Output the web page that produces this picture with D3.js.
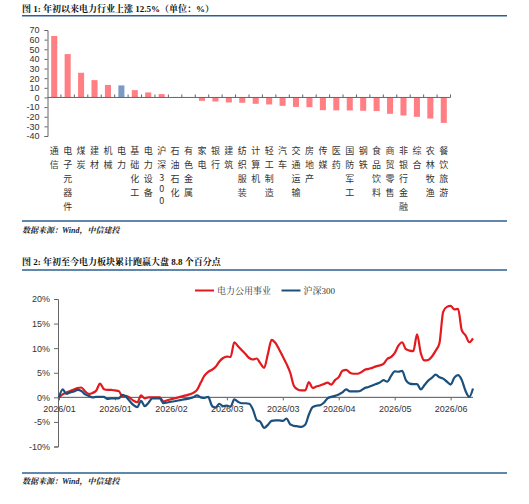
<!DOCTYPE html>
<html><head><meta charset="utf-8">
<script src="https://cdn.jsdelivr.net/npm/d3@7"></script>
<style>body{margin:0;background:#fff}svg{display:block}</style>
</head><body><svg id="c" width="529" height="504"></svg>
<script>
// ---------- Figure 1 data ----------
const categories = ["通信","电子元器件","煤炭","建材","机械","电力","基础化工","电力设备","沪深300","石油石化","有色金属","家电","银行","建筑","纺织服装","计算机","轻工制造","汽车","交通运输","房地产","传媒","医药","国防军工","钢铁","食品饮料","商贸零售","非银行金融","综合","农林牧渔","餐饮旅游"];
const changes = [63.8,45.0,25.6,18.0,13.0,12.5,7.6,5.2,3.5,0.5,0.3,-3.5,-4.2,-5.2,-5.5,-6.6,-7.3,-8.7,-9.8,-10.1,-13.2,-13.4,-13.5,-13.8,-14.1,-17.0,-18.7,-20.1,-21.9,-26.4];
const highlightCategory = "电力";
const barTicks = [70,60,50,40,30,20,10,0,-10,-20,-30,-40];

// ---------- Figure 2 data ----------
const powerUtility = [0,0.6,1.0,1.3,1.6,1.9,2.0,1.2,0.7,0.9,1.4,2.8,1.7,1.5,1.5,1.4,1.3,0.2,0.3,-0.1,-0.7,-1.0,0.4,-0.2,0,0,0,0,-0.8,-0.6,-0.4,-0.2,0,0.2,0.4,0.6,0.9,1.5,3.0,4.4,5.2,5.6,6.2,7.3,8.0,8.3,8.2,11.2,10.4,9.6,8.8,8.0,7.7,7.9,6.9,6.0,8.8,11.7,11.1,9.8,8.3,6.8,5.0,2.3,1.6,1.4,1.4,3.1,1.9,2.2,2.4,2.7,3.0,2.6,3.5,4.1,5.4,5.6,5.0,4.8,4.8,5.1,5.6,5.8,6.0,6.3,6.5,6.8,7.8,8.2,9.0,10.5,11.2,9.8,9.5,9.4,12.8,9.0,7.5,7.6,8.3,9.5,11.0,17.4,18.4,18.6,17.9,18.0,13.6,12.6,11.2,12.0];
const csi300 = [0,1.6,0.7,1.0,1.2,1.5,1.3,0.6,0.3,0,0.1,0.1,0.1,-0.3,-0.2,-0.2,-0.2,0.5,0.1,-0.8,-1.6,-2.0,-0.7,-1.8,-1.1,-0.2,-0.2,-0.2,-1.2,-1.05,-0.9,-0.8,-0.65,-0.5,-0.35,-0.2,0,0.4,0,-0.1,0.1,-1.7,-2.1,-1.3,-1.8,-1.7,-1.9,-0.4,-0.9,-1.2,-1.2,-1.3,-2.5,-4.6,-5.0,-6.2,-5.6,-4.8,-4.7,-4.7,-4.8,-4.3,-5.5,-5.8,-5.9,-6.0,-5.6,-3.5,-2.0,-1.7,-1.6,-1.1,-0.2,0.1,0.3,0.6,1.0,1.6,1.2,1.2,1.2,1.4,1.9,2.1,2.4,2.7,3.0,3.5,3.2,4.3,5.3,5.2,5.4,3.5,2.8,2.7,2.7,1.6,2.5,3.4,4.0,4.6,4.1,3.8,3.2,2.6,4.0,4.5,3.5,1.3,0.1,1.8];
const seriesNames = ["电力公用事业","沪深300"];
const xTickLabels = ["2026/01","2026/01","2026/02","2026/03","2026/03","2026/04","2026/05","2026/06"];
const xTickIndex = [0,15,30,45,60,75,90,105];
const lineYTicks = [20,15,10,5,0,-5,-10];

const svg = d3.select("#c");
const BLUE_RULE = "#2d5f8f";
const CJK = "'Noto Sans CJK SC', sans-serif";
const SANS = "'Liberation Sans', Arial, 'Noto Sans CJK SC', sans-serif";
const SERIF = "'Liberation Serif', 'Times New Roman', 'Noto Serif CJK SC', 'Noto Sans CJK SC', serif";
const AXIS = "#666";
const TXT = "#333";

// Headers / rules / sources
function header(y, text) {
  svg.append("text").attr("x", 22).attr("y", y).attr("font-family", SERIF)
    .attr("font-weight", "bold").attr("font-size", 9).attr("fill", "#111").text(text);
}
function rule(y) {
  svg.append("line").attr("x1", 22).attr("x2", 507).attr("y1", y).attr("y2", y)
    .attr("stroke", BLUE_RULE).attr("stroke-width", 1.5);
}
function source(y) {
  svg.append("text").attr("x", 22).attr("y", y).attr("font-family", SERIF)
    .attr("font-style", "italic").attr("font-weight", "bold").attr("font-size", 8)
    .attr("fill", "#222").text("数据来源：Wind，中信建投");
}
header(12, "图 1: 年初以来电力行业上涨 12.5%（单位：%）");
rule(15.8);
rule(221);
source(232.5);
header(265, "图 2: 年初至今电力板块累计跑赢大盘 8.8 个百分点");
rule(270);
rule(473);
source(484);

// ---------- Figure 1: bars ----------
const xB = d3.scaleBand().domain(categories).range([47.5, 450.5]).paddingInner(0.55).paddingOuter(0.275);
const yB = d3.scaleLinear().domain([-40, 70]).range([136, 30]);

const gBar = svg.append("g");
gBar.selectAll("rect").data(categories).join("rect")
  .attr("x", d => xB(d))
  .attr("width", xB.bandwidth())
  .attr("y", (d, i) => yB(Math.max(0, changes[i])))
  .attr("height", (d, i) => Math.abs(yB(changes[i]) - yB(0)))
  .attr("fill", d => d === highlightCategory ? "#7b9bc3" : "#ff7f84");

const yAxisB = gBar.append("g").attr("transform", "translate(47.5,0)")
  .call(d3.axisLeft(yB).tickValues(barTicks).tickSize(3).tickPadding(5).tickFormat(d => String(d)));
yAxisB.select(".domain").attr("stroke", AXIS);
yAxisB.selectAll(".tick line").attr("stroke", AXIS);
yAxisB.selectAll("text").attr("font-family", SANS).attr("font-size", 9).attr("fill", TXT);

// x baseline with tick marks at band boundaries
gBar.append("line").attr("x1", 47.5).attr("x2", 450.5).attr("y1", yB(0)).attr("y2", yB(0)).attr("stroke", AXIS);
gBar.selectAll(".bt").data(categories).join("line").attr("class", "bt")
  .attr("x1", d => xB(d) + xB.bandwidth() / 2 + xB.step() / 2)
  .attr("x2", d => xB(d) + xB.bandwidth() / 2 + xB.step() / 2)
  .attr("y1", yB(0)).attr("y2", yB(0) - 3).attr("stroke", AXIS);

// vertical category labels
const isDigit = c => /[0-9]/.test(c);
gBar.selectAll(".cl").data(categories).join("text").attr("class", "cl")
  .attr("font-family", CJK).attr("font-size", 9).attr("fill", TXT).attr("text-anchor", "middle")
  .each(function (d) {
    const cx = xB(d) + xB.bandwidth() / 2;
    const chars = Array.from(d);
    let y = 154;
    const t = d3.select(this);
    chars.forEach((c, k) => {
      if (k > 0) y += isDigit(c) ? (isDigit(chars[k - 1]) ? 11.5 : 12.5) : 14;
      t.append("tspan").attr("x", cx).attr("y", y).text(c);
    });
  });

// ---------- Figure 2: lines ----------
const n = powerUtility.length;
const xL = d3.scaleLinear().domain([0, n - 1]).range([59, 473]);
const yL = d3.scaleLinear().domain([-10, 20]).range([446.5, 299]);
const gL = svg.append("g");

const yAxisL = gL.append("g").attr("transform", "translate(58,0)")
  .call(d3.axisLeft(yL).tickValues(lineYTicks).tickSize(4).tickPadding(4).tickFormat(d => d + "%"));
yAxisL.select(".domain").attr("stroke", AXIS);
yAxisL.selectAll(".tick line").attr("stroke", AXIS);
yAxisL.selectAll("text").attr("font-family", SANS).attr("font-size", 9).attr("fill", TXT);

const xAxisL = gL.append("g").attr("transform", `translate(0,${yL(0)})`)
  .call(d3.axisBottom(xL).tickValues(xTickIndex).tickSize(3).tickPadding(5)
    .tickFormat((d, i) => xTickLabels[i]));
xAxisL.select(".domain").attr("d", `M58,0H473`).attr("stroke", "#555");
xAxisL.selectAll(".tick line").attr("stroke", AXIS);
xAxisL.selectAll("text").attr("font-family", SANS).attr("font-size", 9).attr("fill", TXT);

const line = d3.line().x((d, i) => xL(i)).y(d => yL(d)).curve(d3.curveMonotoneX);
const colors = ["#e3191e", "#1b4f7c"];
[powerUtility, csi300].forEach((s, k) => {
  gL.append("path").datum(s).attr("d", line).attr("fill", "none")
    .attr("stroke", colors[k]).attr("stroke-width", 2.2).attr("stroke-linejoin", "round");
});

// legend
const legendX = [195, 281.5];
seriesNames.forEach((name, k) => {
  gL.append("line").attr("x1", legendX[k]).attr("x2", legendX[k] + 19).attr("y1", 290.5).attr("y2", 290.5)
    .attr("stroke", colors[k]).attr("stroke-width", 2);
  gL.append("text").attr("x", legendX[k] + 22).attr("y", 293.8).attr("font-family", SERIF)
    .attr("font-size", 9).attr("fill", TXT).text(name);
});
</script></body></html>
